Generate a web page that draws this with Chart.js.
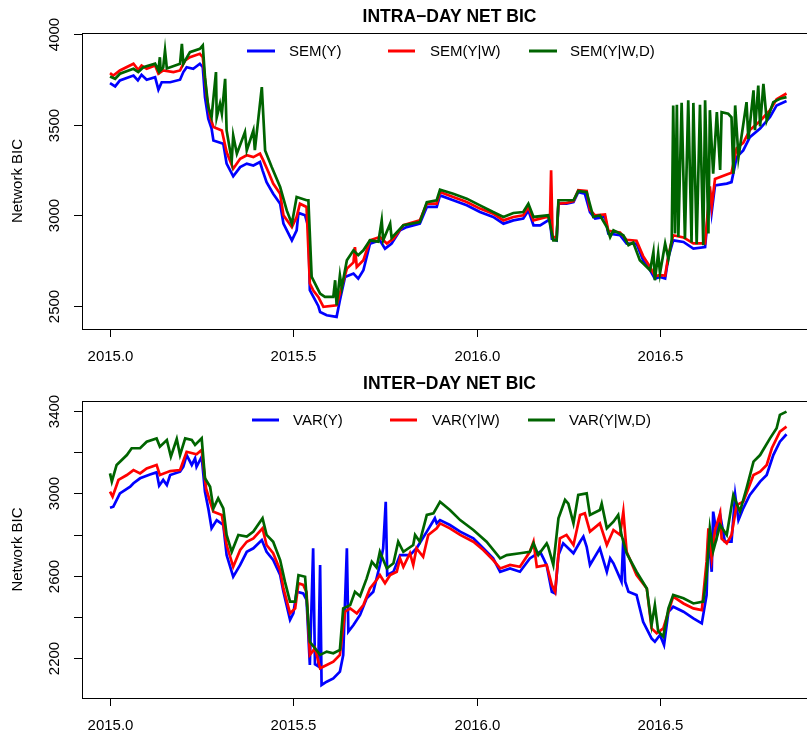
<!DOCTYPE html>
<html lang="en">
<head>
<meta charset="UTF-8">
<title>Net BIC</title>
<style>
    html, body { margin: 0; padding: 0; background: #fff; overflow: hidden; }
    .panel { position: absolute; left: 0; }
    #p1 { top: 0; }
    #p2 { top: 366px; }
</style>
<script src="https://cdn.jsdelivr.net/npm/chart.js"></script>
</head>
<body>
<div class="panel" id="p1"><canvas id="intra" width="807" height="366"></canvas></div>
<div class="panel" id="p2"><canvas id="inter" width="807" height="367"></canvas></div>
<script>
// ---- intra-day panel data (decimal year, BIC) ----
const semYx = [2015.000,2015.014,2015.027,2015.064,2015.076,2015.086,2015.100,2015.123,2015.132,2015.141,2015.164,2015.191,2015.200,2015.209,2015.227,2015.245,2015.253,2015.259,2015.268,2015.277,2015.282,2015.309,2015.318,2015.336,2015.355,2015.373,2015.391,2015.409,2015.416,2015.427,2015.445,2015.464,2015.473,2015.496,2015.509,2015.514,2015.532,2015.541,2015.545,2015.568,2015.573,2015.591,2015.618,2015.627,2015.641,2015.664,2015.677,2015.691,2015.709,2015.736,2015.750,2015.768,2015.791,2015.809,2015.845,2015.864,2015.891,2015.900,2015.936,2015.973,2016.009,2016.045,2016.073,2016.100,2016.127,2016.141,2016.155,2016.173,2016.195,2016.200,2016.205,2016.218,2016.223,2016.245,2016.264,2016.277,2016.295,2016.309,2016.323,2016.350,2016.359,2016.391,2016.409,2016.436,2016.454,2016.473,2016.486,2016.500,2016.514,2016.523,2016.536,2016.564,2016.591,2016.623,2016.627,2016.636,2016.641,2016.650,2016.682,2016.695,2016.709,2016.727,2016.745,2016.773,2016.800,2016.818,2016.845];
const semY = [3729,3711,3744,3771,3744,3775,3748,3762,3693,3734,3734,3748,3790,3817,3808,3836,3817,3652,3533,3478,3413,3395,3285,3215,3266,3285,3275,3294,3248,3183,3119,3064,2954,2862,2917,3013,3000,2935,2587,2500,2467,2449,2440,2532,2660,2679,2651,2697,2844,2862,2816,2844,2917,2935,2954,3046,3046,3110,3083,3055,3018,2991,2954,2972,2982,3027,2945,2945,2972,2972,2871,2862,3064,3064,3073,3128,3119,3018,2982,2991,2899,2890,2844,2844,2752,2697,2651,2660,2651,2770,2862,2853,2816,2825,2917,3138,3018,3165,3175,3183,3321,3358,3431,3478,3542,3606,3630];

const semYWx = [2015.000,2015.009,2015.027,2015.064,2015.077,2015.086,2015.100,2015.123,2015.132,2015.145,2015.173,2015.191,2015.205,2015.218,2015.245,2015.253,2015.264,2015.273,2015.282,2015.305,2015.318,2015.336,2015.355,2015.373,2015.391,2015.409,2015.418,2015.432,2015.445,2015.464,2015.473,2015.496,2015.509,2015.518,2015.536,2015.545,2015.554,2015.568,2015.582,2015.618,2015.632,2015.646,2015.664,2015.668,2015.673,2015.691,2015.709,2015.736,2015.755,2015.773,2015.800,2015.845,2015.864,2015.891,2015.900,2015.936,2015.973,2016.009,2016.045,2016.073,2016.100,2016.127,2016.141,2016.155,2016.191,2016.200,2016.203,2016.207,2016.218,2016.223,2016.245,2016.264,2016.277,2016.300,2016.309,2016.323,2016.350,2016.359,2016.391,2016.409,2016.436,2016.454,2016.473,2016.486,2016.500,2016.514,2016.523,2016.536,2016.564,2016.591,2016.623,2016.627,2016.636,2016.641,2016.650,2016.682,2016.695,2016.709,2016.727,2016.745,2016.773,2016.800,2016.818,2016.845];
const semYW = [3784,3771,3799,3836,3803,3826,3808,3826,3781,3799,3790,3799,3854,3872,3891,3872,3652,3542,3487,3468,3349,3257,3312,3331,3321,3340,3303,3239,3175,3119,3000,2935,2991,3064,3046,2624,2587,2550,2495,2504,2605,2706,2740,2825,2715,2752,2862,2880,2844,2871,2945,2972,3064,3064,3128,3101,3073,3037,3009,2972,2991,3000,3046,2972,2991,2985,3248,2880,2880,3064,3068,3078,3138,3134,3030,3000,3005,2915,2905,2865,2860,2775,2715,2665,2670,2668,2780,2890,2878,2845,2845,2940,3160,3050,3200,3225,3235,3370,3400,3470,3520,3580,3640,3672];

const semYWDx = [2015.000,2015.014,2015.027,2015.064,2015.077,2015.091,2015.123,2015.132,2015.136,2015.138,2015.145,2015.150,2015.155,2015.191,2015.196,2015.200,2015.218,2015.245,2015.253,2015.259,2015.268,2015.277,2015.289,2015.291,2015.300,2015.305,2015.314,2015.318,2015.332,2015.336,2015.346,2015.368,2015.373,2015.391,2015.395,2015.414,2015.423,2015.441,2015.464,2015.482,2015.496,2015.509,2015.536,2015.541,2015.550,2015.573,2015.586,2015.609,2015.614,2015.618,2015.627,2015.632,2015.646,2015.664,2015.677,2015.691,2015.709,2015.732,2015.741,2015.745,2015.764,2015.768,2015.800,2015.845,2015.864,2015.891,2015.900,2015.936,2015.973,2016.009,2016.045,2016.073,2016.100,2016.127,2016.141,2016.155,2016.195,2016.209,2016.218,2016.223,2016.264,2016.277,2016.300,2016.318,2016.336,2016.355,2016.364,2016.373,2016.400,2016.414,2016.427,2016.445,2016.473,2016.482,2016.486,2016.495,2016.500,2016.514,2016.523,2016.532,2016.536,2016.541,2016.546,2016.550,2016.559,2016.568,2016.577,2016.586,2016.591,2016.600,2016.609,2016.618,2016.623,2016.632,2016.636,2016.645,2016.655,2016.664,2016.668,2016.686,2016.695,2016.700,2016.705,2016.714,2016.736,2016.741,2016.755,2016.759,2016.768,2016.773,2016.782,2016.791,2016.809,2016.827,2016.845];
const semYWD = [3766,3753,3781,3808,3790,3817,3836,3799,3872,3800,3815,3909,3810,3836,3946,3836,3900,3918,3937,3762,3597,3542,3790,3540,3615,3560,3753,3468,3303,3440,3340,3459,3358,3468,3360,3707,3358,3266,3156,3027,2954,3101,3083,3083,2660,2568,2550,2550,2642,2504,2669,2600,2752,2807,2780,2807,2862,2855,2972,2862,2954,2875,2945,2963,3073,3083,3141,3119,3092,3055,3018,2991,3013,3018,3064,2991,3000,2862,2862,3083,3083,3134,3128,2991,3000,2935,2880,2917,2890,2835,2850,2752,2697,2798,2642,2789,2680,2844,2760,2862,3606,2900,3610,2880,3620,2870,3634,2850,3620,2840,3610,2835,3634,2900,3580,3230,3569,3250,3569,3560,3540,3230,3606,3320,3624,3420,3689,3470,3716,3490,3725,3523,3624,3643,3652];

// ---- inter-day panel data ----
const varYx = [2015.000,2015.009,2015.027,2015.055,2015.064,2015.082,2015.109,2015.127,2015.134,2015.145,2015.155,2015.164,2015.191,2015.200,2015.209,2015.223,2015.232,2015.236,2015.250,2015.259,2015.268,2015.277,2015.291,2015.309,2015.318,2015.336,2015.355,2015.373,2015.391,2015.414,2015.427,2015.445,2015.464,2015.473,2015.491,2015.500,2015.509,2015.527,2015.536,2015.545,2015.554,2015.559,2015.568,2015.573,2015.577,2015.591,2015.609,2015.627,2015.636,2015.646,2015.650,2015.664,2015.682,2015.700,2015.718,2015.736,2015.745,2015.752,2015.756,2015.773,2015.791,2015.818,2015.836,2015.864,2015.886,2015.891,2015.900,2015.927,2015.955,2015.991,2016.018,2016.045,2016.064,2016.091,2016.118,2016.145,2016.173,2016.182,2016.191,2016.205,2016.214,2016.223,2016.236,2016.264,2016.282,2016.291,2016.300,2016.309,2016.336,2016.355,2016.364,2016.373,2016.395,2016.400,2016.405,2016.414,2016.436,2016.454,2016.477,2016.486,2016.500,2016.511,2016.523,2016.536,2016.564,2016.591,2016.614,2016.627,2016.632,2016.641,2016.645,2016.655,2016.664,2016.677,2016.695,2016.705,2016.714,2016.727,2016.745,2016.773,2016.791,2016.809,2016.827,2016.845];
const varY = [2930,2935,3000,3032,3049,3073,3092,3102,3037,3065,3040,3089,3105,3129,3186,3138,3170,3129,3178,3008,2927,2830,2870,2846,2700,2595,2652,2716,2733,2773,2716,2676,2603,2522,2385,2417,2522,2514,2482,2166,2733,2170,2160,2652,2069,2085,2101,2134,2214,2733,2328,2360,2409,2490,2522,2652,2733,2959,2603,2619,2700,2700,2733,2814,2879,2854,2870,2846,2814,2781,2733,2684,2619,2635,2619,2684,2716,2684,2650,2522,2514,2700,2757,2709,2765,2790,2740,2652,2733,2619,2684,2660,2571,2781,2571,2522,2506,2376,2295,2279,2312,2263,2425,2449,2425,2393,2368,2506,2798,2619,2911,2798,2895,2765,2765,2992,2870,2927,2992,3057,3089,3186,3251,3287];

const varYWx = [2015.000,2015.007,2015.023,2015.046,2015.064,2015.082,2015.100,2015.127,2015.136,2015.164,2015.191,2015.209,2015.236,2015.250,2015.262,2015.273,2015.282,2015.305,2015.318,2015.336,2015.355,2015.373,2015.391,2015.416,2015.427,2015.445,2015.464,2015.473,2015.491,2015.505,2015.514,2015.527,2015.536,2015.545,2015.559,2015.573,2015.591,2015.609,2015.627,2015.641,2015.655,2015.673,2015.691,2015.709,2015.727,2015.736,2015.750,2015.764,2015.782,2015.791,2015.800,2015.818,2015.827,2015.836,2015.854,2015.868,2015.891,2015.900,2015.927,2015.955,2015.991,2016.018,2016.045,2016.064,2016.091,2016.118,2016.145,2016.155,2016.164,2016.191,2016.205,2016.214,2016.227,2016.245,2016.264,2016.282,2016.295,2016.309,2016.336,2016.355,2016.373,2016.391,2016.400,2016.409,2016.436,2016.464,2016.477,2016.491,2016.509,2016.523,2016.536,2016.564,2016.591,2016.614,2016.627,2016.632,2016.641,2016.650,2016.664,2016.668,2016.682,2016.695,2016.709,2016.727,2016.755,2016.773,2016.791,2016.805,2016.827,2016.845];
const varYW = [3008,2984,3065,3089,3113,3097,3121,3138,3089,3108,3113,3202,3190,3211,3024,2959,2911,2895,2749,2643,2725,2765,2781,2830,2749,2709,2627,2538,2417,2441,2563,2555,2520,2215,2247,2150,2166,2182,2215,2425,2441,2417,2457,2538,2579,2603,2563,2603,2619,2684,2643,2709,2652,2733,2692,2798,2830,2854,2830,2798,2765,2725,2676,2635,2652,2643,2716,2765,2643,2652,2555,2522,2781,2798,2749,2895,2903,2814,2854,2749,2822,2798,2911,2716,2603,2538,2344,2320,2344,2425,2498,2465,2441,2433,2668,2830,2684,2820,2903,2780,2757,2798,2943,2959,3089,3105,3138,3219,3300,3324];

const varYWDx = [2015.000,2015.005,2015.018,2015.046,2015.059,2015.082,2015.100,2015.127,2015.136,2015.155,2015.166,2015.182,2015.191,2015.205,2015.223,2015.232,2015.250,2015.259,2015.273,2015.282,2015.295,2015.309,2015.318,2015.332,2015.350,2015.373,2015.391,2015.416,2015.427,2015.445,2015.464,2015.477,2015.491,2015.505,2015.514,2015.532,2015.545,2015.573,2015.591,2015.609,2015.627,2015.636,2015.655,2015.668,2015.682,2015.700,2015.714,2015.727,2015.736,2015.755,2015.773,2015.786,2015.800,2015.827,2015.832,2015.845,2015.864,2015.882,2015.900,2015.927,2015.955,2015.991,2016.027,2016.064,2016.082,2016.118,2016.145,2016.155,2016.168,2016.191,2016.195,2016.209,2016.223,2016.241,2016.250,2016.264,2016.277,2016.300,2016.309,2016.336,2016.341,2016.355,2016.373,2016.386,2016.395,2016.409,2016.436,2016.464,2016.477,2016.486,2016.495,2016.509,2016.523,2016.536,2016.564,2016.591,2016.618,2016.627,2016.636,2016.645,2016.664,2016.682,2016.700,2016.718,2016.736,2016.755,2016.773,2016.800,2016.818,2016.827,2016.845];
const varYWD = [3097,3057,3138,3186,3219,3219,3251,3267,3227,3259,3178,3264,3186,3267,3259,3235,3267,3073,3032,2927,2976,2927,2798,2716,2798,2790,2814,2879,2798,2765,2676,2571,2474,2474,2603,2595,2279,2215,2231,2223,2239,2441,2457,2522,2500,2587,2668,2640,2716,2635,2660,2765,2716,2749,2798,2765,2895,2903,2959,2919,2870,2822,2765,2684,2700,2709,2716,2757,2700,2757,2741,2652,2879,2968,2950,2854,2992,3000,2895,2919,2950,2830,2862,2895,2798,2709,2619,2538,2360,2457,2330,2304,2441,2506,2490,2465,2474,2603,2830,2720,2846,2798,2992,2911,3024,3154,3186,3267,3316,3381,3397];

const xTicks = [2015.0, 2015.5, 2016.0, 2016.5];
const intraTicks = [2500, 3000, 3500, 4000];
const interTicks = [2200, 2400, 2600, 2800, 3000, 3200, 3400];
const interLabels = [2200, 2600, 3000, 3400];

const FONT = '"Liberation Sans", Arial, Helvetica, sans-serif';
const BLUE = '#0000ff', RED = '#ff0000', GREEN = '#006400';

function pts(xs, ys) {
    return xs.map((x, i) => ({ x: x, y: ys[i] }));
}

// R-style frame, ticks, labels, title and legend
function rDecor(cfg) {
    return {
        id: 'rDecor',
        afterDraw(chart) {
            const ctx = chart.ctx;
            const a = chart.chartArea;
            const xs = chart.scales.x, ys = chart.scales.y;
            ctx.save();
            ctx.strokeStyle = '#000';
            ctx.lineWidth = 1;
            ctx.strokeRect(a.left + 0.5, a.top + 0.5, 760, a.bottom - a.top);

            ctx.fillStyle = '#000';
            ctx.font = '15px ' + FONT;
            ctx.textAlign = 'center';
            ctx.textBaseline = 'middle';

            xTicks.forEach(v => {
                const px = Math.round(xs.getPixelForValue(v)) + 0.5;
                ctx.beginPath();
                ctx.moveTo(px, a.bottom);
                ctx.lineTo(px, a.bottom + 8);
                ctx.stroke();
                ctx.fillText(v.toFixed(1), px, a.bottom + 28);
            });

            cfg.yTicks.forEach(v => {
                const py = Math.round(ys.getPixelForValue(v)) + 0.5;
                ctx.beginPath();
                ctx.moveTo(a.left, py);
                ctx.lineTo(a.left - 8, py);
                ctx.stroke();
                if (cfg.yLabels.indexOf(v) >= 0) {
                    ctx.save();
                    ctx.translate(a.left - 27, py);
                    ctx.rotate(-Math.PI / 2);
                    ctx.fillText(String(v), 0, 0);
                    ctx.restore();
                }
            });

            ctx.save();
            ctx.translate(18, (a.top + a.bottom) / 2);
            ctx.rotate(-Math.PI / 2);
            ctx.fillText('Network BIC', 0, 0);
            ctx.restore();

            ctx.font = 'bold 17.5px ' + FONT;
            ctx.fillText(cfg.title, 449.5, cfg.titleY);

            ctx.font = '15px ' + FONT;
            ctx.textAlign = 'left';
            ctx.lineWidth = 3;
            cfg.legend.forEach(it => {
                ctx.strokeStyle = it.color;
                ctx.beginPath();
                ctx.moveTo(it.x0, cfg.legendY);
                ctx.lineTo(it.x1, cfg.legendY);
                ctx.stroke();
                ctx.fillText(it.text, it.tx, cfg.legendY + 1);
            });
            ctx.restore();
        }
    };
}

function makeChart(id, series, yMin, yMax, pad, cfg) {
    new Chart(document.getElementById(id), {
        type: 'line',
        data: {
            datasets: series.map(s => ({
                data: s.data,
                borderColor: s.color,
                borderWidth: 2.7,
                pointRadius: 0,
                tension: 0,
                fill: false,
                order: s.order
            }))
        },
        options: {
            responsive: false,
            animation: false,
            devicePixelRatio: 1,
            layout: { padding: pad },
            plugins: { legend: { display: false }, tooltip: { enabled: false } },
            scales: {
                x: { type: 'linear', display: false, min: 2014.9236, max: 2016.9009 },
                y: { type: 'linear', display: false, min: yMin, max: yMax }
            }
        },
        plugins: [rDecor(cfg)]
    });
}

makeChart('intra', [
    { data: pts(semYx, semY), color: BLUE, order: 3 },
    { data: pts(semYWx, semYW), color: RED, order: 2 },
    { data: pts(semYWDx, semYWD), color: GREEN, order: 1 }
], 2373, 4005.5, { left: 82, top: 33, right: 0, bottom: 37 }, {
    title: 'INTRA\u2212DAY NET BIC', titleY: 17,
    yTicks: intraTicks, yLabels: intraTicks,
    legendY: 51,
    legend: [
        { color: BLUE, x0: 247, x1: 275, tx: 289, text: 'SEM(Y)' },
        { color: RED, x0: 388, x1: 415, tx: 430, text: 'SEM(Y|W)' },
        { color: GREEN, x0: 529, x1: 557, tx: 570, text: 'SEM(Y|W,D)' }
    ]
});

makeChart('inter', [
    { data: pts(varYx, varY), color: BLUE, order: 3 },
    { data: pts(varYWx, varYW), color: RED, order: 2 },
    { data: pts(varYWDx, varYWD), color: GREEN, order: 1 }
], 2005.7, 3448.6, { left: 82, top: 35, right: 0, bottom: 35 }, {
    title: 'INTER\u2212DAY NET BIC', titleY: 18,
    yTicks: interTicks, yLabels: interLabels,
    legendY: 54,
    legend: [
        { color: BLUE, x0: 252, x1: 279, tx: 293, text: 'VAR(Y)' },
        { color: RED, x0: 390, x1: 417, tx: 432, text: 'VAR(Y|W)' },
        { color: GREEN, x0: 528, x1: 555, tx: 569, text: 'VAR(Y|W,D)' }
    ]
});
</script>
</body>
</html>
